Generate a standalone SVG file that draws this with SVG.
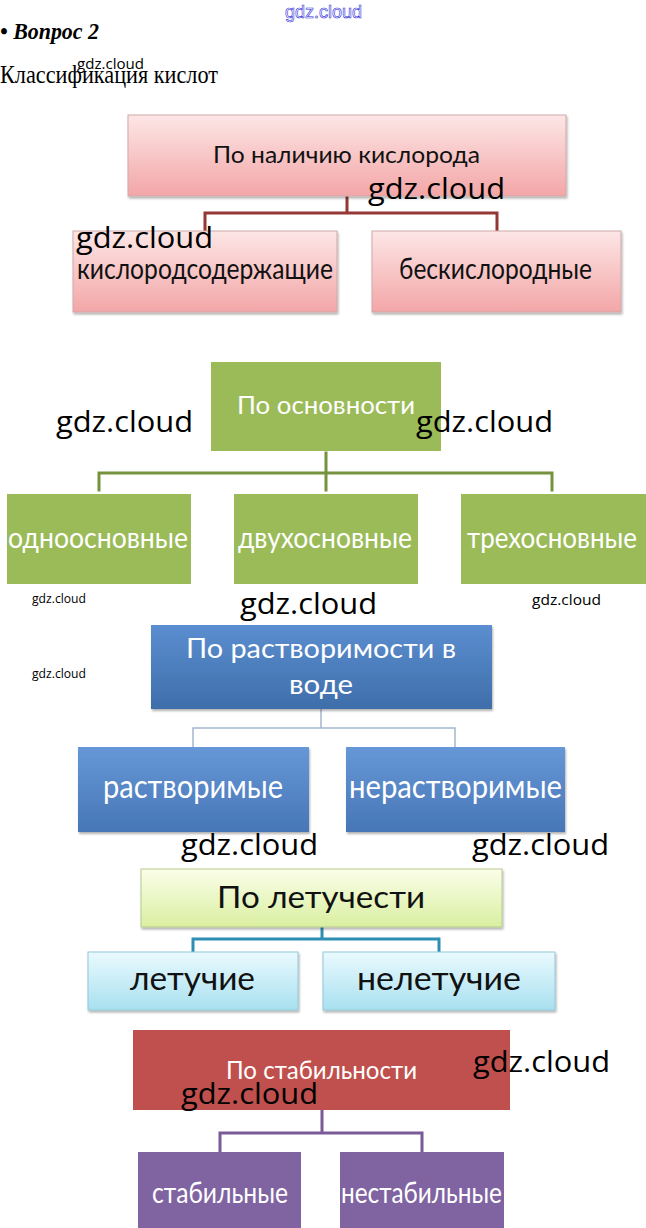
<svg xmlns="http://www.w3.org/2000/svg" width="646" height="1228" viewBox="0 0 646 1228">
<style>
.lbl{font-family:Lato,"Open Sans","DejaVu Sans",sans-serif;text-anchor:start}
.w{fill:#ffffff}
.k{fill:#111111}
.wm{font-family:"Open Sans","DejaVu Sans",sans-serif;fill:#000}
.c{fill:none;stroke-linecap:square}
</style>
<defs>
<linearGradient id="gPink" x1="0" y1="0" x2="0" y2="1"><stop offset="0" stop-color="#fde6e6"/><stop offset="1" stop-color="#f3a6a7"/></linearGradient>
<linearGradient id="gBlueTop" x1="0" y1="0" x2="0" y2="1"><stop offset="0" stop-color="#5b8ed0"/><stop offset="1" stop-color="#3f6eaa"/></linearGradient>
<linearGradient id="gBlue" x1="0" y1="0" x2="0" y2="1"><stop offset="0" stop-color="#6697d6"/><stop offset="1" stop-color="#4776b6"/></linearGradient>
<linearGradient id="gYel" x1="0" y1="0" x2="0" y2="1"><stop offset="0" stop-color="#fbfee9"/><stop offset="1" stop-color="#d9efa0"/></linearGradient>
<linearGradient id="gCyan" x1="0" y1="0" x2="0" y2="1"><stop offset="0" stop-color="#eafafe"/><stop offset="1" stop-color="#a8e0f0"/></linearGradient>
<filter id="sh" x="-5%" y="-5%" width="112%" height="120%"><feDropShadow dx="1" dy="2" stdDeviation="1.2" flood-color="#000" flood-opacity="0.3"/></filter>
</defs>

<text x="0" y="39" font-family="'Liberation Serif',serif" font-size="23" font-weight="bold" font-style="italic" fill="#000" textLength="99" lengthAdjust="spacingAndGlyphs">• Вопрос 2</text>
<text x="0" y="83" font-family="'Liberation Serif',serif" font-size="25" fill="#000" textLength="218" lengthAdjust="spacingAndGlyphs">Классификация кислот</text>

<g id="connectors">
<path class="c" d="M347 197V213M205 231V213H497V231" stroke="#953735" stroke-width="3"/>
<path class="c" d="M326 453V490M99 490V473H552V490" stroke="#76923c" stroke-width="3"/>
<path class="c" d="M321 710V728M193 747V728H455V747" stroke="#a2b6ce" stroke-width="1.5"/>
<path class="c" d="M322 928V939M193 952V939H439V952" stroke="#2e8fb4" stroke-width="3"/>
<path class="c" d="M322 1111V1133M220 1152V1133H422V1152" stroke="#7a5b98" stroke-width="3"/>
</g>

<g id="n-oxygen"><rect x="128" y="115" width="438" height="81" fill="url(#gPink)" stroke="#cfa9a9" filter="url(#sh)"/><text class="lbl k" x="213" y="163" font-size="24" textLength="267" lengthAdjust="spacingAndGlyphs">По наличию кислорода</text></g>
<g id="n-oxy-yes"><rect x="73" y="231" width="264" height="81" fill="url(#gPink)" stroke="#cfa9a9" filter="url(#sh)"/><text class="lbl k" x="77" y="279" font-size="28" textLength="256" lengthAdjust="spacingAndGlyphs">кислородсодержащие</text></g>
<g id="n-oxy-no"><rect x="372" y="231" width="249" height="81" fill="url(#gPink)" stroke="#cfa9a9" filter="url(#sh)"/><text class="lbl k" x="399" y="279" font-size="28" textLength="193" lengthAdjust="spacingAndGlyphs">бескислородные</text></g>

<g id="n-basic"><rect x="211" y="362" width="230" height="89" fill="#9bbb59"/><text class="lbl w" x="237" y="414" font-size="25" textLength="178" lengthAdjust="spacingAndGlyphs">По основности</text></g>
<g id="n-mono"><rect x="7" y="494" width="184" height="90" fill="#9bbb59"/><text class="lbl w" x="8" y="548" font-size="28" textLength="180" lengthAdjust="spacingAndGlyphs">одноосновные</text></g>
<g id="n-di"><rect x="234" y="494" width="184" height="90" fill="#9bbb59"/><text class="lbl w" x="238" y="548" font-size="28" textLength="174" lengthAdjust="spacingAndGlyphs">двухосновные</text></g>
<g id="n-tri"><rect x="461" y="494" width="185" height="90" fill="#9bbb59"/><text class="lbl w" x="467" y="548" font-size="28" textLength="170" lengthAdjust="spacingAndGlyphs">трехосновные</text></g>

<g id="n-sol"><rect x="151" y="625" width="341" height="84" fill="url(#gBlueTop)" filter="url(#sh)"/><text class="lbl w" x="186" y="658" font-size="26" textLength="270" lengthAdjust="spacingAndGlyphs">По растворимости в</text><text class="lbl w" x="289" y="694" font-size="26" textLength="64" lengthAdjust="spacingAndGlyphs">воде</text></g>
<g id="n-sol-yes"><rect x="78" y="747" width="231" height="85" fill="url(#gBlue)" filter="url(#sh)"/><text class="lbl w" x="103" y="798" font-size="32" textLength="180" lengthAdjust="spacingAndGlyphs">растворимые</text></g>
<g id="n-sol-no"><rect x="346" y="747" width="219" height="85" fill="url(#gBlue)" filter="url(#sh)"/><text class="lbl w" x="349" y="798" font-size="32" textLength="213" lengthAdjust="spacingAndGlyphs">нерастворимые</text></g>

<g id="n-vol"><rect x="141" y="869" width="361" height="58" fill="url(#gYel)" stroke="#b7c98f" filter="url(#sh)"/><text class="lbl k" x="217" y="908" font-size="30" textLength="208" lengthAdjust="spacingAndGlyphs">По летучести</text></g>
<g id="n-vol-yes"><rect x="88" y="952" width="210" height="58" fill="url(#gCyan)" stroke="#92c8d8" filter="url(#sh)"/><text class="lbl k" x="130" y="990" font-size="33" textLength="125" lengthAdjust="spacingAndGlyphs">летучие</text></g>
<g id="n-vol-no"><rect x="323" y="952" width="232" height="58" fill="url(#gCyan)" stroke="#92c8d8" filter="url(#sh)"/><text class="lbl k" x="357" y="990" font-size="33" textLength="164" lengthAdjust="spacingAndGlyphs">нелетучие</text></g>

<g id="n-stab"><rect x="133" y="1030" width="377" height="80" fill="#c0504d"/><text class="lbl w" x="226" y="1079" font-size="25" textLength="191" lengthAdjust="spacingAndGlyphs">По стабильности</text></g>
<g id="n-stab-yes"><rect x="138" y="1152" width="163" height="76" fill="#8064a2"/><text class="lbl w" x="152" y="1203" font-size="29" textLength="136" lengthAdjust="spacingAndGlyphs">стабильные</text></g>
<g id="n-stab-no"><rect x="340" y="1152" width="164" height="76" fill="#8064a2"/><text class="lbl w" x="341" y="1203" font-size="29" textLength="161" lengthAdjust="spacingAndGlyphs">нестабильные</text></g>

<g id="watermarks">
<text x="285" y="18" font-family="'Liberation Sans',sans-serif" font-size="18" fill="#ffffff" stroke="#2a2ad8" stroke-width="0.6" textLength="77" lengthAdjust="spacingAndGlyphs">gdz.cloud</text>
<text class="wm" x="77" y="69" font-size="15" textLength="67" lengthAdjust="spacingAndGlyphs">gdz.cloud</text>
<text class="wm" x="368" y="199" font-size="30" textLength="137" lengthAdjust="spacingAndGlyphs">gdz.cloud</text>
<text class="wm" x="76" y="248" font-size="30" textLength="137" lengthAdjust="spacingAndGlyphs">gdz.cloud</text>
<text class="wm" x="56" y="432" font-size="30" textLength="137" lengthAdjust="spacingAndGlyphs">gdz.cloud</text>
<text class="wm" x="416" y="432" font-size="30" textLength="137" lengthAdjust="spacingAndGlyphs">gdz.cloud</text>
<text class="wm" x="32" y="603" font-size="12" textLength="54" lengthAdjust="spacingAndGlyphs">gdz.cloud</text>
<text class="wm" x="240" y="614" font-size="30" textLength="137" lengthAdjust="spacingAndGlyphs">gdz.cloud</text>
<text class="wm" x="532" y="605" font-size="15" textLength="69" lengthAdjust="spacingAndGlyphs">gdz.cloud</text>
<text class="wm" x="32" y="678" font-size="12" textLength="54" lengthAdjust="spacingAndGlyphs">gdz.cloud</text>
<text class="wm" x="181" y="855" font-size="30" textLength="137" lengthAdjust="spacingAndGlyphs">gdz.cloud</text>
<text class="wm" x="472" y="855" font-size="30" textLength="137" lengthAdjust="spacingAndGlyphs">gdz.cloud</text>
<text class="wm" x="473" y="1072" font-size="30" textLength="137" lengthAdjust="spacingAndGlyphs">gdz.cloud</text>
<text class="wm" x="181" y="1104" font-size="30" textLength="137" lengthAdjust="spacingAndGlyphs">gdz.cloud</text>
</g>
</svg>
